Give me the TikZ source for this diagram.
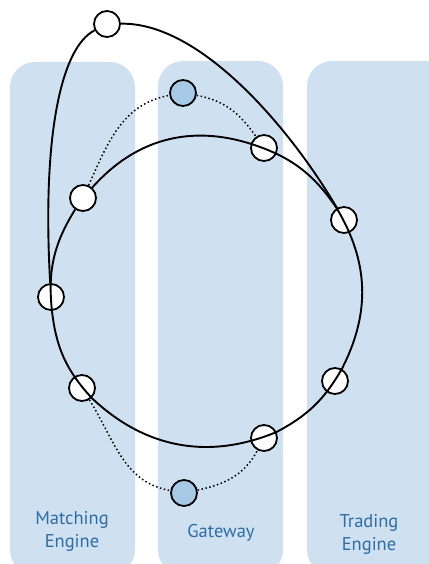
\documentclass[tikz,border=0pt]{standalone}
\usepackage{fontspec}
\setmainfont{PT Sans}
\definecolor{lanefill}{RGB}{207,224,240}
\definecolor{bluefill}{RGB}{166,202,230}
\definecolor{labelblue}{RGB}{46,109,164}
\begin{document}
\begin{tikzpicture}[x=1pt,y=1pt,
  lane/.style={fill=lanefill, rounded corners=25pt},
  vnode/.style={circle, draw=black, line width=1.8pt, fill=white, minimum size=26pt, inner sep=0pt},
  bnode/.style={vnode, fill=bluefill},
  link/.style={draw=black, line width=1.9pt},
  dotlink/.style={draw=black, line width=1.5pt, dash pattern=on 1.5pt off 2.5pt},
  lbl/.style={text=labelblue, font=\fontsize{18.5}{23}\selectfont, align=center}]
\useasboundingbox (0,0) rectangle (428,-564);
% lanes
\fill[lane] (10,-62) rectangle (135,-575);
\fill[lane] (158,-61) rectangle (283,-575);
\fill[lane] (307,-61) rectangle (450,-575);
% labels
\node[lbl] (lm) at (72,-531) {Matching\\Engine};
\node[lbl] (lg) at (221,-533) {Gateway};
\node[lbl] (lt) at (369,-534) {Trading\\Engine};
% nodes
\node[vnode] (A) at (107,-24) {};
\node[bnode] (B) at (183,-93) {};
\node[vnode] (C) at (264,-148) {};
\node[vnode] (D) at (83,-198) {};
\node[vnode] (E) at (344,-220) {};
\node[vnode] (F) at (51,-297) {};
\node[vnode] (G) at (82,-388) {};
\node[vnode] (H) at (335,-381) {};
\node[vnode] (I) at (264,-438) {};
\node[bnode] (J) at (184,-493) {};
% ring
\draw[link] (D) to[bend left=33] (C) to[bend left=19] (E) to[bend left=29] (H)
  to[bend left=16] (I) to[bend left=33] (G) to[bend left=18] (F) to[bend left=19] (D);
% outer curves
\draw[link] (A) .. controls (60,-48) and (42,-140) .. (F);
\draw[link] (A) .. controls (200,-22) and (290,-128) .. (E);
% dotted paths
\draw[dotlink] (D) to[out=66, in=190] (B);
\draw[dotlink] (B) to[out=-10, in=125] (C);
\draw[dotlink] (G) to[out=-58, in=170] (J);
\draw[dotlink] (J) to[out=12, in=-118] (I);
\end{tikzpicture}
\end{document}
